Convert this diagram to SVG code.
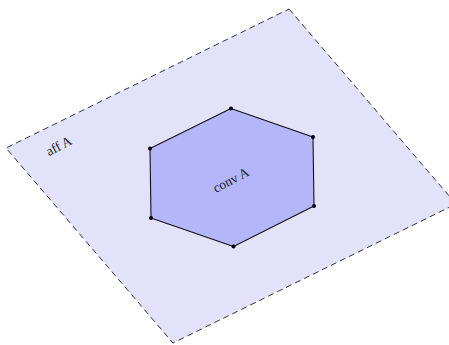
<svg xmlns="http://www.w3.org/2000/svg" width="449" height="345" viewBox="0 0 449 345">
  <style>
    .plane { fill: #e2e2fb; stroke: #333; stroke-width: 1; stroke-dasharray: 6 4; }
    .hull { fill: #b5b5f9; stroke: #111; stroke-width: 1.1; stroke-linejoin: round; }
    .pt { fill: #000; }
    .lbl { font-family: "Liberation Serif", "DejaVu Serif", serif; font-size: 13.5px; fill: #222; }
  </style>
  <rect width="449" height="345" fill="#fff"/>
  <g id="affine-hull">
    <polygon class="plane" points="289,9 456,204 173,343 6,148"/>
    <text class="lbl" x="61" y="150" text-anchor="middle" transform="rotate(-28 61 150)">aff A</text>
  </g>
  <g id="convex-hull">
    <polygon class="hull" points="231,108.5 313,137 314,206 233.5,246.5 151,218 150,148.5"/>
    <text class="lbl" x="233" y="184" text-anchor="middle" transform="rotate(-28 233 184)">conv A</text>
  </g>
  <g id="points">
    <circle class="pt" cx="231" cy="108.5" r="2"/>
    <circle class="pt" cx="313" cy="137" r="2"/>
    <circle class="pt" cx="314" cy="206" r="2"/>
    <circle class="pt" cx="233.5" cy="246.5" r="2"/>
    <circle class="pt" cx="151" cy="218" r="2"/>
    <circle class="pt" cx="150" cy="148.5" r="2"/>
  </g>
</svg>
